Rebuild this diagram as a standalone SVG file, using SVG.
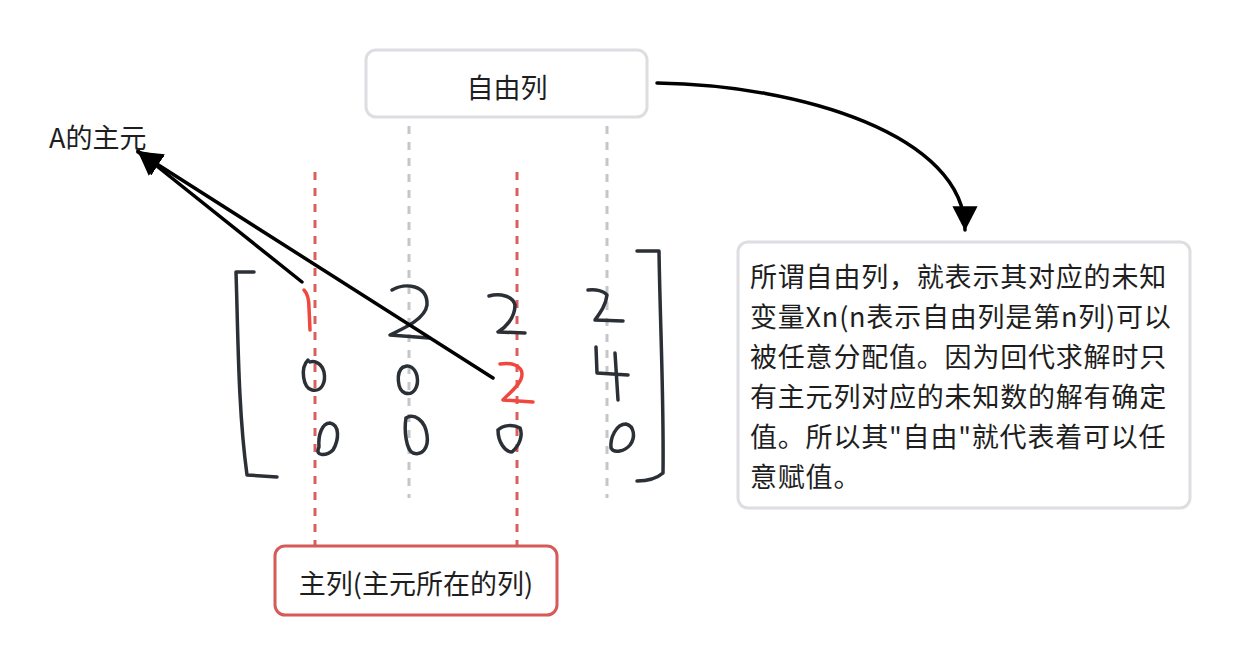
<svg xmlns="http://www.w3.org/2000/svg" width="1240" height="666" viewBox="0 0 1240 666">
<style>
.t{font-family:"Noto Sans CJK SC","Noto Sans",sans-serif;font-size:27px;fill:#1e1e1e}
.box{fill:#fff;stroke:#dddee1;stroke-width:3}
.dr{stroke:#d9605c;stroke-width:3;stroke-dasharray:8 8;fill:none}
.dg{stroke:#c4c6ca;stroke-width:3;stroke-dasharray:8 8;fill:none}
.hw{fill:none;stroke:#2b2f36;stroke-width:3.5;stroke-linecap:round;stroke-linejoin:round}
.hr{fill:none;stroke:#f0483e;stroke-width:3.5;stroke-linecap:round;stroke-linejoin:round}
.ar{fill:none;stroke:#000;stroke-width:3.5;stroke-linecap:round}
</style>
<defs>
<marker id="ah" markerWidth="8" markerHeight="8" refX="6.8" refY="4" orient="auto" markerUnits="strokeWidth" viewBox="0 0 8 8">
<path d="M0,0.4 L7,4 L0,7.6 Z" fill="#000"/>
</marker>
</defs>
<rect width="1240" height="666" fill="#fff"/>

<g id="guides">
<line class="dr" x1="315" y1="172" x2="315" y2="545"/>
<line class="dr" x1="517" y1="172" x2="517" y2="545"/>
<line class="dg" x1="409" y1="126" x2="409" y2="498"/>
<line class="dg" x1="607" y1="126" x2="607" y2="498"/>
</g>

<g id="matrix">
<path class="hw" d="M254,272 L236,272 C238,330 238,410 247,475 L277,477"/>
<path class="hw" d="M637,251 L659,251 C660,320 664,400 663,473 C655,480 645,481 637,481"/>
<path class="hr" d="M304,290 C308,294 309,300 309,308 L310,330"/>
<path class="hw" d="M392,290 C405,282 428,285 427,305 C425,320 400,330 390,335 L429,338"/>
<path class="hw" d="M489,296 C500,293 513,296 515,305 C515,318 505,328 498,332 L525,333"/>
<path class="hw" d="M588,290 C596,289 604,291 607,295 C606,305 600,313 595,320 L623,321"/>
<path class="hw" d="M308,360 C300,368 303,388 312,390 C322,392 326,382 324,372 C322,364 315,360 310,362"/>
<path class="hw" d="M403,367 C396,372 397,390 405,393 C414,396 419,386 417,376 C415,368 409,364 404,367"/>
<path class="hr" d="M500,364 C512,362 522,366 522,374 C522,384 510,392 503,400 L533,402"/>
<path class="hw" d="M596,347 L597,373 L628,375 M615,353 L618,400"/>
<path class="hw" d="M319,447 C314,457 327,456 333,450 C339,440 340,425 330,423 C322,423 318,435 319,447"/>
<path class="hw" d="M406,418 C404,430 406,450 413,453 C422,456 429,448 427,435 C425,420 414,413 406,418"/>
<path class="hw" d="M498,430 C498,442 505,452 512,452 C520,445 523,435 520,428 C513,424 503,425 498,430"/>
<path class="hw" d="M611,448 C614,454 625,451 630,445 C636,437 634,426 626,424 C616,424 610,438 611,448"/>
</g>

<g id="connectors">
<path class="ar" d="M302,282 L138,151" marker-end="url(#ah)"/>
<path class="ar" d="M493,378 L138,152" marker-end="url(#ah)"/>
<path class="ar" d="M657,83 C800,85 965,135 965,230" marker-end="url(#ah)"/>
</g>

<g id="free-col">
<rect class="box" x="366" y="50" width="281" height="67" rx="10"/>
<text class="t" x="507" y="86" text-anchor="middle" dominant-baseline="central">自由列</text>
</g>

<g id="pivot-label">
<text class="t" x="49" y="136" dominant-baseline="central">A的主元</text>
</g>

<g id="pivot-col">
<rect x="275" y="546" width="282" height="69" rx="10" fill="#fff" stroke="#d45b58" stroke-width="3"/>
<text class="t" x="416" y="582" text-anchor="middle" dominant-baseline="central">主列(主元所在的列)</text>
</g>

<g id="desc">
<rect class="box" x="738" y="242" width="452" height="266" rx="10"/>
<text class="t" style="letter-spacing:0.8px" dominant-baseline="central">
<tspan x="750" y="275">所谓自由列，就表示其对应的未知</tspan>
<tspan x="750" y="315">变量Xn(n表示自由列是第n列)可以</tspan>
<tspan x="750" y="355">被任意分配值。因为回代求解时只</tspan>
<tspan x="750" y="395">有主元列对应的未知数的解有确定</tspan>
<tspan x="750" y="435">值。所以其"自由"就代表着可以任</tspan>
<tspan x="750" y="475">意赋值。</tspan>
</text>
</g>
</svg>
